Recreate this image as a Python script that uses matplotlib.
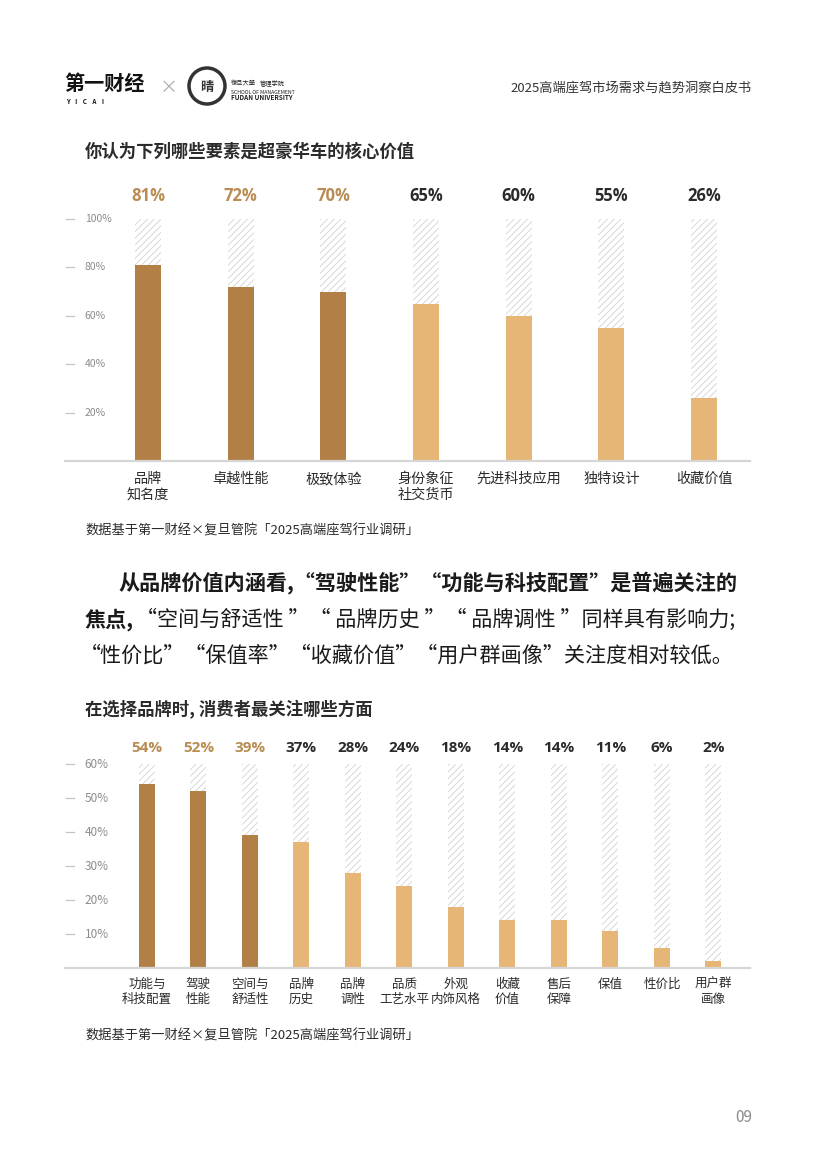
import matplotlib
matplotlib.use("Agg")
import matplotlib.pyplot as plt
from matplotlib.patches import Ellipse

plt.rcParams['font.family'] = ['Noto Sans CJK SC', 'DejaVu Sans']
plt.rcParams['hatch.linewidth'] = 0.6

W, H = 818, 1157

# chart 1: core value of ultra-luxury cars
core_labels = ["品牌\n知名度", "卓越性能", "极致体验", "身份象征\n社交货币",
               "先进科技应用", "独特设计", "收藏价值"]
core_values = [81, 72, 70, 65, 60, 55, 26]
core_ticks = [20, 40, 60, 80, 100]

# chart 2: what consumers care about when choosing a brand
brand_labels = ["功能与\n科技配置", "驾驶\n性能", "空间与\n舒适性", "品牌\n历史", "品牌\n调性",
                "品质\n工艺水平", "外观\n内饰风格", "收藏\n价值", "售后\n保障", "保值",
                "性价比", "用户群\n画像"]
brand_values = [54, 52, 39, 37, 28, 24, 18, 14, 14, 11, 6, 2]
brand_ticks = [10, 20, 30, 40, 50, 60]

n_top = 3  # highlighted bars
DARK = "#b27f46"
LIGHT = "#e6b677"
PCT_GOLD = "#b88c52"
TXT = "#2b2b2b"
GRAY = "#8c8c8c"


def px_axes(l, t, r, b):
    return fig.add_axes([l / W, 1 - b / H, (r - l) / W, (b - t) / H])


def ftext(x, y, s, **kw):
    return fig.text(x / W, 1 - y / H, s, **kw)


def bar_chart(ax, labels, values, ticks, ymax, xlim, width, pct_off,
              fs_cat, fs_pct, fs_tick, cat_pad):
    x = list(range(len(values)))
    ax.bar(x, [ymax] * len(x), width, facecolor="white", edgecolor="#d2d2d2",
           hatch="/////", lw=0, zorder=1)
    colors = [DARK if i < n_top else LIGHT for i in x]
    ax.bar(x, values, width, color=colors, lw=0, zorder=2)
    for i, v in zip(x, values):
        ax.annotate(f"{v}%", xy=(i, ymax), xytext=(0, pct_off), textcoords="offset points",
                    ha="center", va="center", fontsize=fs_pct, fontweight="bold",
                    color=PCT_GOLD if i < n_top else TXT, family=["Open Sans", "DejaVu Sans"])
    ax.axhline(0, color="#d6d6d6", lw=1.6, clip_on=False, zorder=3)
    yt = ax.get_yaxis_transform()
    for t in ticks:
        ax.plot([0.002, 0.013], [t, t], color="#c4c4c4", lw=0.9, transform=yt, clip_on=False)
        ax.text(0.029, t, f"{t}%", transform=yt, ha="left", va="center",
                fontsize=fs_tick, color=GRAY)
    ax.set_xlim(*xlim)
    ax.set_ylim(0, ymax)
    ax.set_yticks([])
    ax.set_xticks(x)
    ax.set_xticklabels(labels, fontsize=fs_cat, color=TXT, linespacing=1.2)
    ax.tick_params(axis="x", length=0, pad=cat_pad)
    for s in ax.spines.values():
        s.set_visible(False)
    ax.patch.set_alpha(0)


fig = plt.figure(figsize=(W / 100, H / 100), dpi=100)

# header
ftext(64, 83, "第一财经", fontsize=14.5, fontweight="bold", color="#111111", va="center")
ftext(66, 101, "Y    I    C    A    I", fontsize=4.5, fontweight="bold", color="#111111",
      va="center")
ftext(169, 88, "×", fontsize=13, color="#b0b0b0", va="center", ha="center")
fig.add_artist(Ellipse((207 / W, 1 - 86 / H), 36 / W, 36 / H, transform=fig.transFigure,
                       facecolor="white", edgecolor="#333333", lw=2.5))
ftext(207, 87, "晴", fontsize=9.5, fontweight="bold", color="#333333", ha="center", va="center")
ftext(231, 83, "復旦大學", fontsize=4.5, color="#222222", va="center")
ftext(260, 84, "管理学院", fontsize=4.5, color="#222222", va="center")
ftext(231, 92, "SCHOOL OF MANAGEMENT", fontsize=3.7, color="#222222", va="center")
ftext(231, 98, "FUDAN UNIVERSITY", fontsize=4.6, fontweight="bold", color="#222222", va="center")
ftext(752, 88, "2025高端座驾市场需求与趋势洞察白皮书", fontsize=9.5, color="#333333",
      ha="right", va="center")

# chart 1
ftext(85, 152, "你认为下列哪些要素是超豪华车的核心价值", fontsize=12.5, fontweight="bold",
      color=TXT, va="center")
ax1 = px_axes(65, 219, 750, 461)
bar_chart(ax1, core_labels, core_values, core_ticks, 100, (-0.896, 6.496), 0.28,
          16.5, 10.2, 12, 7.5, 8)
ftext(85, 531, "数据基于第一财经×复旦管院「2025高端座驾行业调研」", fontsize=9.5,
      color=TXT, va="center")

# paragraph
PFS = 15.2
ftext(118, 583, "从品牌价值内涵看,“驾驶性能”“功能与科技配置”是普遍关注的", fontsize=PFS,
      fontweight="bold", color="#1a1a1a", va="center")
t2 = ftext(85, 620, "焦点,", fontsize=PFS, fontweight="bold", color="#1a1a1a", va="center")
fig.add_artist(plt.Annotation("“空间与舒适性 ”“ 品牌历史 ”“ 品牌调性 ”同样具有影响力;",
                              xy=(1, 0.5), xycoords=t2, xytext=(1, 0), textcoords="offset points",
                              fontsize=PFS, color="#1a1a1a", va="center", ha="left"))
ftext(80, 656, "“性价比”“保值率”“收藏价值”“用户群画像”关注度相对较低。", fontsize=PFS,
      color="#1a1a1a", va="center")

# chart 2
ftext(85, 710, "在选择品牌时, 消费者最关注哪些方面", fontsize=12.5, fontweight="bold",
      color=TXT, va="center")
ax2 = px_axes(65, 764, 750, 968)
bar_chart(ax2, brand_labels, brand_values, brand_ticks, 60, (-1.59, 11.71), 0.31,
          11.5, 9, 11, 8.5, 7)
ftext(85, 1036, "数据基于第一财经×复旦管院「2025高端座驾行业调研」", fontsize=9.5,
      color=TXT, va="center")

ftext(752, 1118, "09", fontsize=11, color="#8a8a8a", ha="right", va="center")

fig.savefig("out.png", dpi=100)
